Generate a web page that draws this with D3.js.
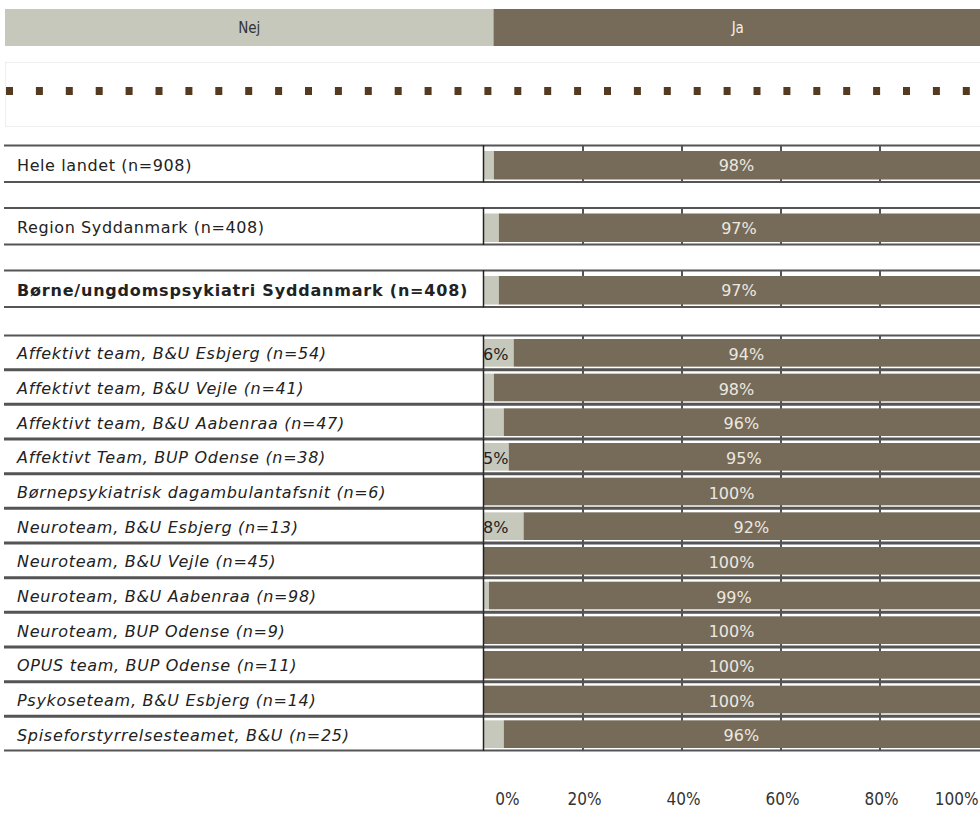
<!DOCTYPE html>
<html>
<head>
<meta charset="utf-8">
<script src="https://cdn.jsdelivr.net/npm/d3@7"></script>
<style>
  html, body { margin: 0; padding: 0; background: #fff; }
  svg { display: block; font-family: "DejaVu Sans", Verdana, sans-serif; }
</style>
</head>
<body>
<svg id="chart" width="980" height="821"></svg>
<script>
// Summary rows (top) and unit rows (below)
const summaryLabels = [
  "Hele landet (n=908)",
  "Region Syddanmark (n=408)",
  "Børne/ungdomspsykiatri Syddanmark (n=408)"
];
const summaryJa = [98, 97, 97];

const unitLabels = [
  "Affektivt team, B&U Esbjerg (n=54)",
  "Affektivt team, B&U Vejle (n=41)",
  "Affektivt team, B&U Aabenraa (n=47)",
  "Affektivt Team, BUP Odense (n=38)",
  "Børnepsykiatrisk dagambulantafsnit (n=6)",
  "Neuroteam, B&U Esbjerg (n=13)",
  "Neuroteam, B&U Vejle (n=45)",
  "Neuroteam, B&U Aabenraa (n=98)",
  "Neuroteam, BUP Odense (n=9)",
  "OPUS team, BUP Odense (n=11)",
  "Psykoseteam, B&U Esbjerg (n=14)",
  "Spiseforstyrrelsesteamet, B&U (n=25)"
];
const unitJa = [94, 98, 96, 95, 100, 92, 100, 99, 100, 100, 100, 96];

const legendKeys = ["Nej", "Ja"];
const tickValues = [0, 20, 40, 60, 80, 100];

const colNej = "#c6c8bb";
const colJa = "#766b58";
const lineCol = "#555";
const condensed = "\"DejaVu Sans Condensed\", \"DejaVu Sans\", sans-serif";

const svg = d3.select("#chart");
const W = 980;

// Percent scale for the bars
const x = d3.scaleLinear().domain([0, 100]).range([484, 979]);

// Legend header
const legX = d3.scaleBand().domain(legendKeys).range([5, 982]);
const leg = svg.append("g");
leg.selectAll("rect").data(legendKeys).join("rect")
  .attr("x", d => legX(d)).attr("y", 9)
  .attr("width", d => legX.bandwidth()).attr("height", 37)
  .attr("fill", d => d === "Nej" ? colNej : colJa);
leg.selectAll("text").data(legendKeys).join("text")
  .attr("x", d => legX(d) + legX.bandwidth() / 2).attr("y", 28)
  .attr("dy", "0.35em").attr("text-anchor", "middle")
  .attr("font-size", 15).attr("font-family", condensed)
  .attr("fill", d => d === "Nej" ? "#333" : "#f2efe8")
  .text(d => d);

// Dotted separator band
svg.append("rect").attr("x", 5.5).attr("y", 62.5).attr("width", 980).attr("height", 64)
  .attr("fill", "#fff").attr("stroke", "#eee");
const dots = d3.range(33);
svg.append("g").selectAll("rect").data(dots).join("rect")
  .attr("x", i => 6 + i * 29.9).attr("y", 87)
  .attr("width", 7).attr("height", 8)
  .attr("fill", "#553a22");

// Row scales
const ySum = d3.scaleBand().domain(summaryLabels).range([145, 307.5]).paddingInner(0.4).paddingOuter(0);
const yUnit = d3.scaleBand().domain(unitLabels).range([335, 751]).padding(0);

function drawRows(labels, values, y, style, topGap) {
  const g = svg.append("g");
  const rows = labels.map((l, i) => ({ label: l, ja: values[i], nej: 100 - values[i] }));
  const row = g.selectAll("g.row").data(rows).join("g").attr("class", "row");
  const h = y.bandwidth();
  const barTop = topGap, barH = h - topGap - 3;

  // gridlines behind bars
  row.each(function (d) {
    const r = d3.select(this);
    const y0 = y(d.label);
    [20, 40, 60, 80].forEach(t => {
      r.append("line").attr("x1", x(t)).attr("x2", x(t))
        .attr("y1", y0).attr("y2", y0 + h)
        .attr("stroke", lineCol).attr("stroke-width", 2);
    });
  });

  // Nej segment
  row.append("rect")
    .attr("x", x(0)).attr("y", d => y(d.label) + barTop)
    .attr("width", d => x(d.nej) - x(0))
    .attr("height", barH)
    .attr("fill", colNej);
  // Ja segment
  row.append("rect")
    .attr("x", d => x(d.nej)).attr("y", d => y(d.label) + barTop)
    .attr("width", d => x(100) - x(d.nej) + 1)
    .attr("height", barH)
    .attr("fill", colJa);

  // borders
  row.append("line").attr("x1", 4).attr("x2", W)
    .attr("y1", d => y(d.label) + 0.5).attr("y2", d => y(d.label) + 0.5)
    .attr("stroke", lineCol).attr("stroke-width", 2);
  row.append("line").attr("x1", 4).attr("x2", W)
    .attr("y1", d => y(d.label) + h - 0.5).attr("y2", d => y(d.label) + h - 0.5)
    .attr("stroke", lineCol).attr("stroke-width", 2);
  row.append("line").attr("x1", 483.5).attr("x2", 483.5)
    .attr("y1", d => y(d.label)).attr("y2", d => y(d.label) + h)
    .attr("stroke", "#222").attr("stroke-width", 1.5);

  // category labels
  row.append("text")
    .attr("x", 17).attr("y", d => y(d.label) + h / 2 + 1.5)
    .attr("dy", "0.35em").attr("font-size", 16).attr("fill", "#222")
    .attr("font-style", (d, i) => style(i).italic ? "italic" : "normal")
    .attr("font-weight", (d, i) => style(i).bold ? "bold" : "normal")
    .attr("letter-spacing", (d, i) => style(i).bold ? 0.8 : (style(i).italic ? 0.7 : 0.6))
    .text(d => d.label);

  // value labels
  row.append("text")
    .attr("x", d => (x(d.nej) + x(100)) / 2).attr("y", d => y(d.label) + h / 2 + 2)
    .attr("dy", "0.35em").attr("text-anchor", "middle")
    .attr("font-size", 16).attr("fill", "#ece8e0")
    .text(d => d.ja + "%");
  row.filter(d => d.nej >= 5).append("text")
    .attr("x", x(0) - 1).attr("y", d => y(d.label) + h / 2 + 2)
    .attr("dy", "0.35em").attr("font-size", 16).attr("fill", "#222")
    .text(d => d.nej + "%");
}

drawRows(summaryLabels, summaryJa, ySum, i => ({ bold: i === 2, italic: false }), 6);
drawRows(unitLabels, unitJa, yUnit, () => ({ bold: false, italic: true }), 4);

// Percent axis
const axis = d3.axisBottom(x).tickValues(tickValues).tickSize(0).tickPadding(0)
  .tickFormat(d => d + "%");
const ax = svg.append("g").attr("transform", "translate(0,793)").call(axis)
  .attr("font-size", 17).attr("font-family", condensed);
ax.select(".domain").remove();
ax.selectAll("text")
  .attr("fill", "#333")
  .attr("text-anchor", d => d === 100 ? "end" : "middle")
  .attr("dx", d => d === 0 ? 23 : (d === 100 ? -1 : 1))
  .attr("x", d => d === 100 ? W - 1 - x(100) : 0);
</script>
</body>
</html>
